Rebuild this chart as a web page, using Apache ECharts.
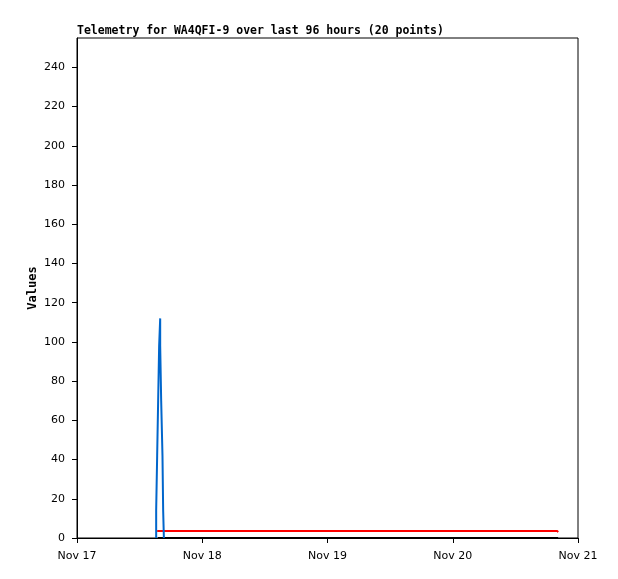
<!DOCTYPE html>
<html><head><meta charset="utf-8">
<script src="https://cdn.jsdelivr.net/npm/echarts@6/dist/echarts.min.js"></script>
<style>html,body{margin:0;padding:0;background:#fff}#c{width:618px;height:579px}</style>
</head><body><div id="c"></div>
<script>
// hours since Nov 17 00:00
const xTickLabels = ['Nov 17','Nov 18','Nov 19','Nov 20','Nov 21'];
const blueT = [15.17,15.17,15.36,15.36,15.55,15.55,15.74,15.74,15.94,15.94,15.94,16.13,16.13,16.38,16.38,16.51,16.51,16.65,16.65];
const blueV = [0,14,14,42,42,70,70,98,98,112,98,98,70,70,42,42,14,14,0];
const redT = [15.36,15.55,15.8,92.0,92.2];
const redV = [3.6,4.6,3.6,3.6,3.0];
const blackT = [15.5,92.2];
const blackV = [0,0];

const zip = (t,v) => t.map((x,i)=>[x,v[i]]);
const chart = echarts.init(document.getElementById('c'), null, {renderer:'canvas'});
chart.setOption({
  animation:false,
  title:{text:'Telemetry for WA4QFI-9 over last 96 hours (20 points)',left:77,top:25,padding:0,
    textStyle:{fontFamily:'DejaVu Sans Mono',fontWeight:'bold',fontSize:11.5,color:'#000'}},
  grid:{left:77,top:38,right:40,bottom:41,show:true,borderColor:'#000',borderWidth:1,backgroundColor:'transparent'},
  xAxis:{type:'value',min:0,max:96,interval:24,
    axisLine:{lineStyle:{color:'#000',width:1}},
    axisTick:{show:true,length:5,inside:false,lineStyle:{color:'#000'}},
    splitLine:{show:false},
    axisLabel:{color:'#000',fontFamily:'DejaVu Sans',fontSize:11,margin:13,
      formatter:v=>xTickLabels[Math.round(v/24)]}},
  yAxis:{type:'value',min:0,max:255,interval:20,name:'Values',nameLocation:'middle',nameGap:38,
    nameMoveOverlap:false,
    nameTextStyle:{fontFamily:'DejaVu Sans Mono',fontWeight:'bold',fontSize:12,color:'#000'},
    axisLine:{show:true,lineStyle:{color:'#000',width:1}},
    axisTick:{show:true,length:5,lineStyle:{color:'#000'}},
    splitLine:{show:false},
    axisLabel:{color:'#000',fontFamily:'DejaVu Sans',fontSize:11,margin:12,
      showMaxLabel:false}},
  series:[
    {type:'line',data:zip(blackT,blackV),symbol:'none',lineStyle:{color:'#000',width:2},z:2},
    {type:'line',data:zip(redT,redV),symbol:'none',lineStyle:{color:'#ff0000',width:2},z:3},
    {type:'line',data:zip(blueT,blueV),symbol:'none',lineStyle:{color:'#0066cc',width:2},z:4}
  ]
});
</script></body></html>
